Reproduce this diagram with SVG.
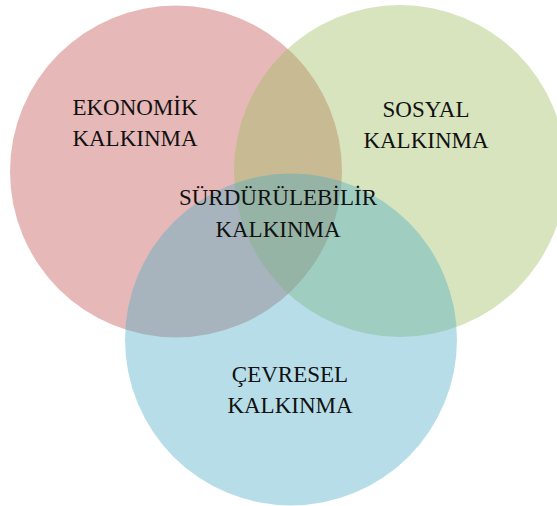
<svg xmlns="http://www.w3.org/2000/svg" width="557" height="506" viewBox="0 0 557 506">
<style>
.c{fill-opacity:0.4;stroke:none}
.t{font-family:"Liberation Serif","Times New Roman",serif;font-size:23px;fill:#111;text-anchor:middle}
</style>
<rect width="557" height="506" fill="#fff"/>
<g id="ekonomik">
<circle class="c" cx="176" cy="171.5" r="166" fill="#C0504D"/>
</g>
<g id="sosyal">
<circle class="c" cx="400" cy="171" r="166" fill="#9BBB59"/>
</g>
<g id="cevresel">
<circle class="c" cx="291" cy="339.5" r="166" fill="#4BACC6"/>
</g>
<g id="connectors"/>
<g id="labels">
<text class="t" x="135" y="115">EKONOMİK</text>
<text class="t" x="135" y="146">KALKINMA</text>
<text class="t" x="426" y="117">SOSYAL</text>
<text class="t" x="426" y="148">KALKINMA</text>
<text class="t" x="278" y="205">SÜRDÜRÜLEBİLİR</text>
<text class="t" x="278" y="237">KALKINMA</text>
<text class="t" x="290" y="382">ÇEVRESEL</text>
<text class="t" x="290" y="413">KALKINMA</text>
</g>
</svg>
